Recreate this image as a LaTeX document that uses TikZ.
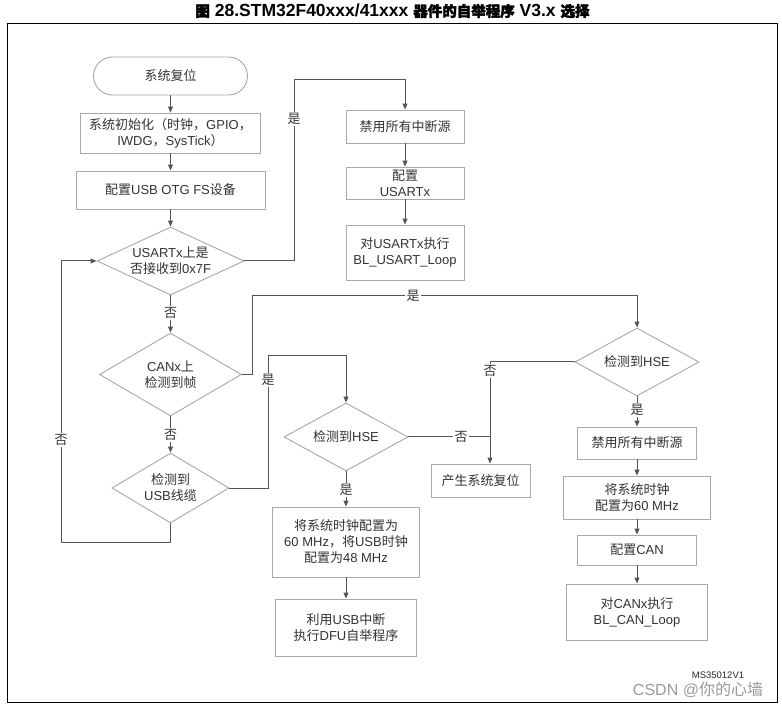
\documentclass[tikz,border=0pt]{standalone}
\usepackage{fontspec}
\setmainfont{Liberation Sans}
\newfontfamily\zhfont{Noto Sans CJK SC}
\newfontfamily\zhbold[FakeBold=2.5]{Noto Sans CJK SC}
\newcommand\zht[1]{{\zhfont #1}}
\newcommand\ztt[1]{{\fontsize{14.5}{16}\selectfont\zhbold #1}}
\usetikzlibrary{shapes.geometric,arrows.meta}
\definecolor{linec}{HTML}{555555}
\definecolor{boxc}{HTML}{A8A8A8}
\definecolor{txtc}{HTML}{333333}
\begin{document}
\begin{tikzpicture}[x=1pt,y=-1pt,
  every node/.style={text=txtc, font=\fontsize{13}{16}\selectfont, align=center, inner sep=0pt},
  box/.style={draw=boxc, fill=white, line width=0.9pt},
  dia/.style={diamond, draw=boxc, fill=white, line width=0.9pt, inner sep=0pt},
  arr/.style={draw=linec, line width=1pt, -{Triangle[length=6pt,width=5pt]}},
  conn/.style={draw=linec, line width=1pt},
  lbl/.style={fill=white, inner sep=1.5pt}]
\useasboundingbox (0,0) rectangle (782,708);
\node[font=\fontsize{17.5}{19}\selectfont\bfseries, text=black] (title) at (392.5,11) {\ztt{图} 28.STM32F40xxx/41xxx \ztt{器件的自举程序} V3.x \ztt{选择}};
\draw[line width=0.8pt] (7,23) rectangle (777,702);

% left column
\node[box, rounded corners=19pt, minimum width=154, minimum height=38] (start) at (170.5,76) {\zht{系统复位}};
\node[box, minimum width=180, minimum height=40] (init) at (170.5,133) {\zht{系统初始化（时钟，}GPIO\zht{，}\\IWDG\zht{，}SysTick\zht{）}};
\node[box, minimum width=189, minimum height=38] (usbcfg) at (170.5,190) {\zht{配置}USB OTG FS\zht{设备}};
\node[dia, shape aspect=2.16, minimum width=147, minimum height=68] (dUsart) at (170.5,261) {USARTx\zht{上是}\\\zht{否接收到}0x7F};
\node[dia, shape aspect=1.71, minimum width=142, minimum height=83] (dCan) at (170.5,374.5) {CANx\zht{上}\\\zht{检测到帧}};
\node[dia, shape aspect=1.67, minimum width=117, minimum height=70] (dUsb) at (170.5,488) {\zht{检测到}\\USB\zht{线缆}};

% USART column
\node[box, minimum width=118, minimum height=33] (dis1) at (405,126.5) {\zht{禁用所有中断源}};
\node[box, minimum width=118, minimum height=32] (cfgU) at (405,183) {\zht{配置}\\USARTx};
\node[box, minimum width=118, minimum height=55] (loopU) at (405,252.5) {\zht{对}USARTx\zht{执行}\\BL\_USART\_Loop};

% middle column
\node[dia, shape aspect=1.82, minimum width=124, minimum height=68] (hse1) at (346,437) {\zht{检测到}HSE};
\node[box, minimum width=147, minimum height=70] (clk1) at (346,542) {\zht{将系统时钟配置为}\\60 MHz\zht{，将}USB\zht{时钟}\\\zht{配置为}48 MHz};
\node[box, minimum width=141, minimum height=57] (dfu) at (346,627.5) {\zht{利用}USB\zht{中断}\\\zht{执行}DFU\zht{自举程序}};
\node[box, minimum width=99, minimum height=33] (reset) at (480.5,480.5) {\zht{产生系统复位}};

% right column
\node[dia, shape aspect=1.82, minimum width=124, minimum height=68] (hse2) at (637,362) {\zht{检测到}HSE};
\node[box, minimum width=119, minimum height=32] (dis2) at (637,443) {\zht{禁用所有中断源}};
\node[box, minimum width=147, minimum height=43] (clk2) at (637,497.5) {\zht{将系统时钟}\\\zht{配置为}60 MHz};
\node[box, minimum width=119, minimum height=30] (cfgCan) at (637,550) {\zht{配置}CAN};
\node[box, minimum width=141, minimum height=56] (loopCan) at (637,612) {\zht{对}CANx\zht{执行}\\BL\_CAN\_Loop};

% helper coordinates
\coordinate (c1) at (294,80);
\coordinate (c3) at (61,542);
\coordinate (c4) at (252,296);
\coordinate (c5) at (268,356);
\coordinate (c6) at (490,437);

% connectors
\draw[arr] (start.south) -- (init.north);
\draw[arr] (init.south) -- (usbcfg.north);
\draw[arr] (usbcfg.south) -- (dUsart.north);
\draw[arr] (dUsart.east) -| (c1) -| (dis1.north);
\draw[arr] (dis1.south) -- (cfgU.north);
\draw[arr] (cfgU.south) -- (loopU.north);
\draw[arr] (dUsart.south) -- (dCan.north);
\draw[arr] (dCan.south) -- (dUsb.north);
\draw[arr] (dUsb.south) |- (c3) |- (dUsart.west);
\draw[arr] (dCan.east) -| (c4) -| (hse2.north);
\draw[arr] (dUsb.east) -| (c5) -| (hse1.north);
\draw[conn] (hse1.east) -- (c6);
\draw[arr] (hse2.west) -| (reset.north -| c6);
\draw[arr] (hse1.south) -- (clk1.north);
\draw[arr] (clk1.south) -- (dfu.north);
\draw[arr] (hse2.south) -- (dis2.north);
\draw[arr] (dis2.south) -- (clk2.north);
\draw[arr] (clk2.south) -- (cfgCan.north);
\draw[arr] (cfgCan.south) -- (loopCan.north);

% labels
\node[lbl] (l1) at (294,119) {\zht{是}};
\node[lbl] (l2) at (170.5,313) {\zht{否}};
\node[lbl] (l3) at (170.5,435) {\zht{否}};
\node[lbl] (l4) at (61,440) {\zht{否}};
\node[lbl] (l5) at (413,296) {\zht{是}};
\node[lbl] (l6) at (268,380) {\zht{是}};
\node[lbl] (l7) at (461,437) {\zht{否}};
\node[lbl] (l8) at (490,371) {\zht{否}};
\node[lbl] (l9) at (346,490) {\zht{是}};
\node[lbl] (l10) at (637,410) {\zht{是}};

\node[font=\fontsize{9.5}{11}\selectfont, text=black!85] (ms) at (718,675) {MS35012V1};
\node[font=\fontsize{16}{18}\selectfont, text=black!40] (wm) at (698,690) {CSDN @\zht{你的心墙}};
\end{tikzpicture}
\end{document}
